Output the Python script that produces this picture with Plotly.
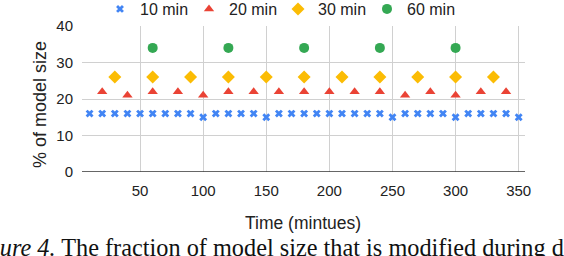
import plotly.graph_objects as go

x10 = [10, 20, 30, 40, 50, 60, 70, 80, 90, 100, 110, 120, 130, 140, 150, 160, 170, 180,
       190, 200, 210, 220, 230, 240, 250, 260, 270, 280, 290, 300, 310, 320, 330, 340, 350]
y10 = [16, 16, 16, 16, 16, 16, 16, 16, 16, 15, 16, 16, 16, 16, 15, 16, 16, 16,
       16, 16, 16, 16, 16, 16, 15, 16, 16, 16, 16, 15, 16, 16, 16, 16, 15]
x20 = [20, 40, 60, 80, 100, 120, 140, 160, 180, 200, 220, 240, 260, 280, 300, 320, 340]
y20 = [22, 21, 22, 22, 21, 22, 22, 22, 22, 22, 22, 22, 21, 22, 21, 22, 22]
x30 = [30, 60, 90, 120, 150, 180, 210, 240, 270, 300, 330]
y30 = [26, 26, 26, 26, 26, 26, 26, 26, 26, 26, 26]
x60 = [60, 120, 180, 240, 300]
y60 = [34, 34, 34, 34, 34]

xticks = [50, 100, 150, 200, 250, 300, 350]
yticks = [0, 10, 20, 30, 40]

SANS = "Liberation Sans, Arial, sans-serif"
SERIF = "Liberation Serif, Times New Roman, serif"

fig = go.Figure()
fig.add_trace(go.Scatter(x=x10, y=y10, mode="markers", name="10 min",
                         marker=dict(symbol="x", size=7, color="#4285F4", line=dict(width=0))))
fig.add_trace(go.Scatter(x=x20, y=y20, mode="markers", name="20 min",
                         marker=dict(symbol="triangle-up", size=9, color="#EA4335", line=dict(width=0))))
fig.add_trace(go.Scatter(x=x30, y=y30, mode="markers", name="30 min",
                         marker=dict(symbol="diamond", size=10, color="#FBBC04", line=dict(width=0))))
fig.add_trace(go.Scatter(x=x60, y=y60, mode="markers", name="60 min",
                         marker=dict(symbol="circle", size=10, color="#34A853", line=dict(width=0))))

fig.update_layout(
    width=564, height=256,
    margin=dict(l=82, r=39, t=26, b=84, autoexpand=False),
    plot_bgcolor="white", paper_bgcolor="white",
    font=dict(family=SANS, color="#222222"),
    showlegend=True,
    legend=dict(orientation="h", x=(100 - 82) / 443, xanchor="left", y=1, yanchor="bottom",
                yref="paper", entrywidth=44, entrywidthmode="pixels",
                font=dict(size=16, family=SANS, color="#222222"),
                bgcolor="rgba(0,0,0,0)", itemclick=False),
    xaxis=dict(range=[4, 355], tickvals=xticks, ticktext=[str(v) for v in xticks],
               showgrid=True, gridcolor="#d0d0d0", gridwidth=1, zeroline=False,
               showline=False, ticks="", ticklabelstandoff=8,
               tickfont=dict(size=15, family=SANS, color="#222222")),
    yaxis=dict(range=[0, 40], tickvals=yticks, ticktext=[str(v) for v in yticks],
               showgrid=True, gridcolor="#d0d0d0", gridwidth=1, zeroline=False,
               showline=False, ticks="", ticklabelstandoff=8,
               tickfont=dict(size=15, family=SANS, color="#222222")),
    shapes=[dict(type="line", xref="paper", yref="y", x0=0, x1=1, y0=0, y1=0,
                 line=dict(color="#333333", width=1.3))],
    annotations=[
        dict(text="Time (mintues)", xref="paper", yref="paper", x=(303 - 82) / 443, y=0,
             xanchor="center", yanchor="middle", yshift=-51, showarrow=False,
             font=dict(size=17.5, family=SANS, color="#222222")),
        dict(text="% of model size", xref="paper", yref="paper", x=0, y=0.5,
             xanchor="center", yanchor="middle", xshift=-42, yshift=-6, textangle=-90,
             showarrow=False, font=dict(size=18, family=SANS, color="#222222")),
        dict(text="<i>Figure 4.</i> The fraction of model size that is modified during different",
             xref="paper", yref="paper", x=(-37 - 82) / 443, y=0, xanchor="left",
             yanchor="middle", yshift=-75, showarrow=False,
             font=dict(size=24.3, family=SERIF, color="#111111")),
    ],
)

fig.write_html("out.html", config={"displayModeBar": False},
               post_script="document.body.style.margin='0px';")
